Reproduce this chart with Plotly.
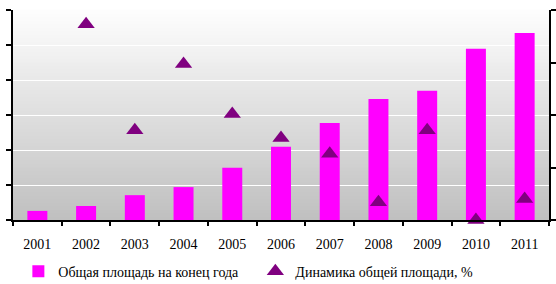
import plotly.graph_objects as go

years = ["2001", "2002", "2003", "2004", "2005", "2006", "2007", "2008", "2009", "2010", "2011"]
area_total = [0.26, 0.40, 0.71, 0.94, 1.49, 2.09, 2.77, 3.46, 3.69, 4.89, 5.34]
area_dynamics = [None, 3.73, 1.71, 2.97, 2.02, 1.56, 1.26, 0.34, 1.71, 0.0, 0.40]

name_bar = "Общая площадь на конец года"
name_tri = "Динамика общей площади, %"

fig = go.Figure()
fig.add_trace(go.Bar(x=years, y=area_total, name=name_bar,
                     marker=dict(color="#FF00FF", line=dict(width=0))))
fig.add_trace(go.Scatter(x=years, y=area_dynamics, name=name_tri, mode="markers",
                         yaxis="y2", cliponaxis=False,
                         marker=dict(symbol="triangle-up", size=15, color="#800080",
                                     line=dict(width=0))))

# gradient background of plot area
shapes = []
n = 60
for i in range(n):
    t = i / (n - 1)
    v = int(round(253 - (253 - 192) * (1 - t)))
    shapes.append(dict(type="rect", xref="paper", yref="paper", layer="below",
                       x0=0, x1=1, y0=i / n, y1=(i + 1) / n + 0.002,
                       fillcolor=f"rgb({v},{v},{v})", line=dict(width=0)))

font_serif = "Liberation Serif, Times New Roman, serif"
fig.update_layout(
    width=556, height=284,
    margin=dict(l=13, r=7, t=10, b=64, autoexpand=False),
    paper_bgcolor="white", plot_bgcolor="rgba(0,0,0,0)",
    shapes=shapes,
    bargap=0.59,
    showlegend=True,
    legend=dict(orientation="h", x=0.01, xanchor="left", y=-0.17, yanchor="top",
                font=dict(family=font_serif, size=14, color="black"),
                bgcolor="rgba(0,0,0,0)", itemwidth=30, tracegroupgap=0,
                entrywidth=192, entrywidthmode="pixels"),
    font=dict(family=font_serif, size=14, color="black"),
    xaxis=dict(range=[-0.5, len(years) - 0.5], showline=True, linecolor="black",
               linewidth=2, ticks="outside",
               tickson="boundaries", ticklen=4, tickwidth=2, tickcolor="black",
               showgrid=False, ticklabelstandoff=10, automargin=False,
               tickfont=dict(family=font_serif, size=14, color="black")),
    yaxis=dict(range=[0, 6], dtick=1, showticklabels=False, showline=True,
               linecolor="black", linewidth=2, ticks="outside", ticklen=5,
               tickwidth=2, tickcolor="black", showgrid=True, gridcolor="white",
               gridwidth=1, zeroline=False, automargin=False),
    yaxis2=dict(range=[0, 4], dtick=1, showticklabels=False, overlaying="y",
                side="right", showline=True, linecolor="black", linewidth=2,
                ticks="outside", ticklen=5, tickwidth=2, tickcolor="black",
                showgrid=False, zeroline=False, automargin=False),
)

fig.write_html("out.html", config={"displayModeBar": False},
               post_script="document.body.style.margin='0px';")
